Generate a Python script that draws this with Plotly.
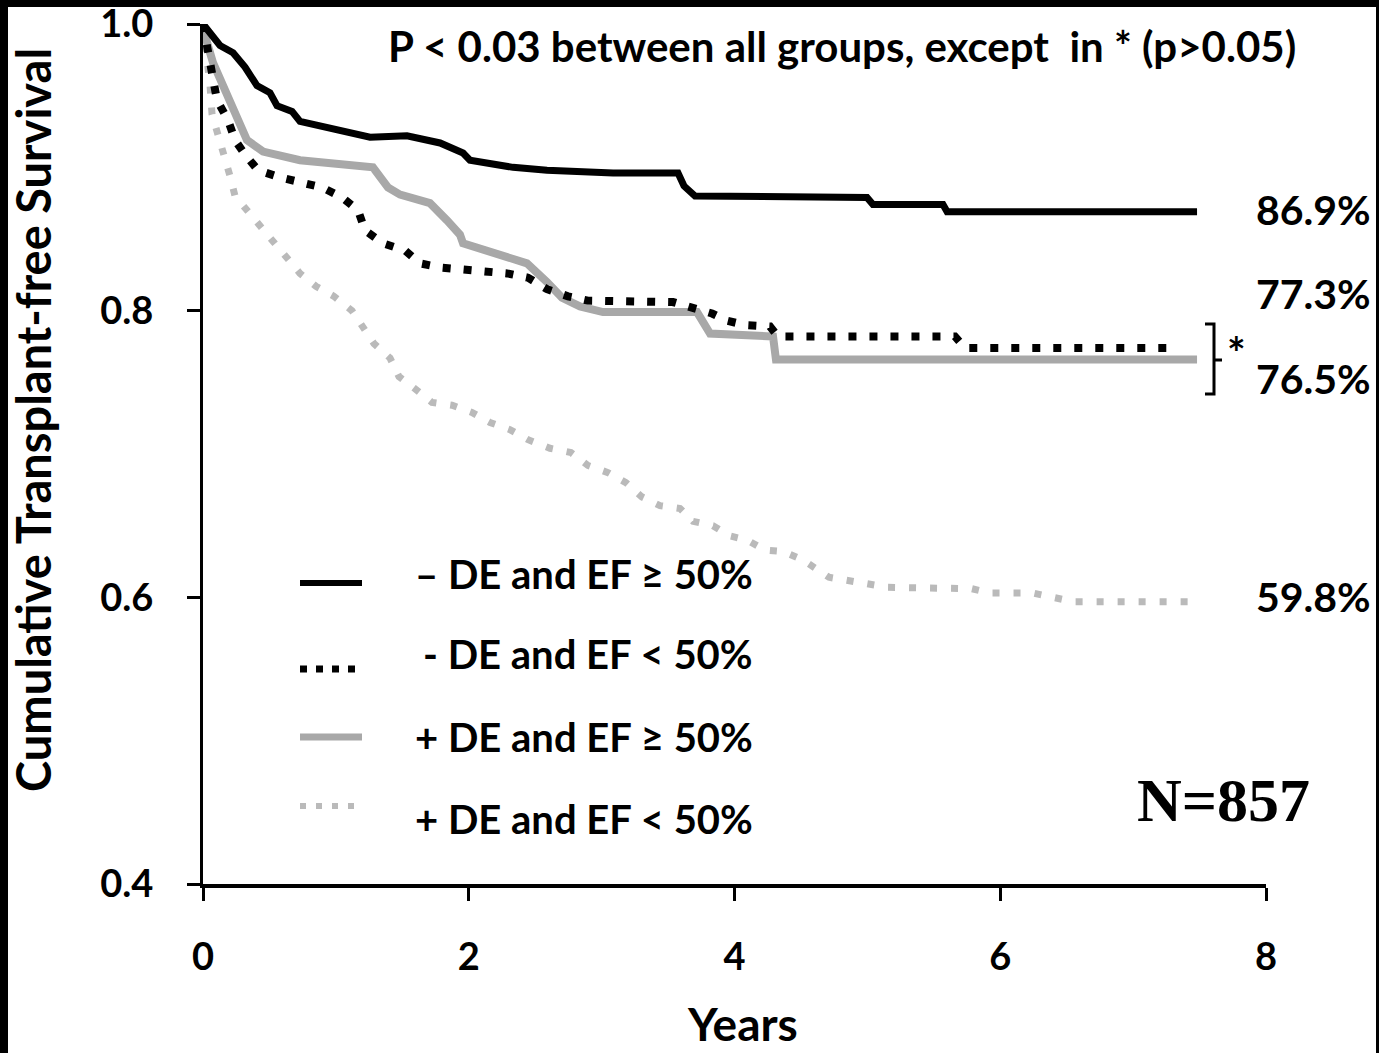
import plotly.graph_objects as go

# ---------------- data ----------------
years_neg_de_ef_hi = [0, 0.053, 0.128, 0.226, 0.316, 0.406, 0.504, 0.557, 0.670, 0.730, 0.956,
                      1.257, 1.535, 1.784, 1.957, 2.009, 2.333, 2.589, 3.086, 3.575, 3.620, 3.703,
                      4.997, 5.042, 5.569, 5.600, 7.481]
surv_neg_de_ef_hi = [1.0, 0.994, 0.985, 0.980, 0.970, 0.957, 0.952, 0.943, 0.939, 0.932, 0.927,
                     0.921, 0.922, 0.917, 0.910, 0.905, 0.900, 0.898, 0.896, 0.896, 0.887, 0.880,
                     0.879, 0.874, 0.874, 0.869, 0.869]

years_neg_de_ef_lo = [0, 0.053, 0.105, 0.188, 0.241, 0.316, 0.414, 0.579, 0.896, 1.046, 1.167,
                      1.219, 1.355, 1.520, 1.633, 1.799, 2.288, 2.446, 2.589, 2.747, 2.897, 3.537,
                      3.831, 3.944, 4.079, 4.267, 4.327, 5.659, 5.735, 7.278]
surv_neg_de_ef_lo = [1.0, 0.975, 0.947, 0.933, 0.919, 0.909, 0.898, 0.893, 0.886, 0.879, 0.870,
                     0.856, 0.847, 0.842, 0.833, 0.830, 0.826, 0.823, 0.815, 0.810, 0.807, 0.806,
                     0.798, 0.793, 0.790, 0.789, 0.782, 0.782, 0.774, 0.774]

years_pos_de_ef_hi = [0, 0.015, 0.075, 0.188, 0.278, 0.331, 0.452, 0.730, 1.279, 1.392, 1.483,
                      1.708, 1.836, 1.934, 1.957, 2.213, 2.438, 2.589, 2.702, 2.837, 3.010, 3.718,
                      3.816, 4.290, 4.312, 7.481]
surv_pos_de_ef_hi = [1.0, 0.992, 0.973, 0.950, 0.933, 0.919, 0.911, 0.905, 0.900, 0.886, 0.881,
                     0.875, 0.863, 0.853, 0.847, 0.840, 0.833, 0.820, 0.809, 0.803, 0.799, 0.799,
                     0.784, 0.782, 0.766, 0.766]

years_pos_de_ef_lo = [0, 0.030, 0.053, 0.068, 0.113, 0.166, 0.203, 0.241, 0.339, 0.436, 0.542,
                      0.640, 0.730, 0.850, 0.986, 1.121, 1.204, 1.287, 1.407, 1.475, 1.588, 1.723,
                      1.874, 2.024, 2.160, 2.310, 2.446, 2.611, 2.769, 2.897, 3.048, 3.183, 3.304,
                      3.439, 3.590, 3.688, 3.838, 3.959, 4.094, 4.230, 4.365, 4.516, 4.711, 4.847,
                      4.997, 5.155, 5.787, 5.923, 6.246, 6.397, 6.548, 7.428]
surv_pos_de_ef_lo = [1.0, 0.978, 0.957, 0.937, 0.923, 0.909, 0.894, 0.880, 0.869, 0.858, 0.848,
                     0.837, 0.826, 0.817, 0.810, 0.800, 0.789, 0.777, 0.767, 0.754, 0.746, 0.736,
                     0.734, 0.729, 0.722, 0.717, 0.710, 0.704, 0.701, 0.692, 0.687, 0.680, 0.670,
                     0.664, 0.662, 0.653, 0.650, 0.643, 0.640, 0.633, 0.632, 0.626, 0.614, 0.612,
                     0.610, 0.607, 0.606, 0.603, 0.603, 0.600, 0.597, 0.597]

group_labels = ["\u2013 DE and EF \u2265 50%", "- DE and EF < 50%",
                "+ DE and EF \u2265 50%", "+ DE and EF < 50%"]
final_labels = ["86.9%", "77.3%", "76.5%", "59.8%"]
x_ticks = [0, 2, 4, 6, 8]
y_ticks = [0.4, 0.6, 0.8, 1.0]

# ---------------- layout helpers (pixel -> paper) ----------------
W, H = 1379, 1053
L, R, T, B = 203, 113, 24, 169
PW, PH = W - L - R, H - T - B


def pxp(x):
    return (x - L) / PW


def pyp(y):
    return (H - B - y) / PH


FONT = "Lato"
BLACK = "#000000"
GRAY = "#a8a8a8"
LGRAY = "#bababa"

fig = go.Figure()

styles = [
    dict(color=BLACK, width=7, dash="solid"),
    dict(color=BLACK, width=8, dash="8px,13px"),
    dict(color=GRAY, width=8, dash="solid"),
    dict(color=LGRAY, width=7, dash="7px,14px"),
]
legend_dash = ["solid", "7px,9px", "solid", "6px,10px"]
series = [
    (years_neg_de_ef_hi, surv_neg_de_ef_hi),
    (years_neg_de_ef_lo, surv_neg_de_ef_lo),
    (years_pos_de_ef_hi, surv_pos_de_ef_hi),
    (years_pos_de_ef_lo, surv_pos_de_ef_lo),
]
order = [3, 2, 1, 0]
for i in order:
    xs, ys = series[i]
    fig.add_trace(go.Scatter(x=xs, y=ys, mode="lines", name=group_labels[i],
                             line=dict(color=styles[i]["color"], width=styles[i]["width"],
                                       dash=styles[i]["dash"]),
                             showlegend=False, hoverinfo="skip"))

annotations = []
shapes = []

# legend (drawn manually)
leg_text_y = [574, 654, 737, 819]
leg_line_y = [583, 669, 737, 806]
for i in range(4):
    shapes.append(dict(type="line", xref="paper", yref="paper",
                       x0=pxp(300), x1=pxp(362), y0=pyp(leg_line_y[i]), y1=pyp(leg_line_y[i]),
                       line=dict(color=styles[i]["color"], width=styles[i]["width"] - 1,
                                 dash=legend_dash[i])))
    annotations.append(dict(text=group_labels[i], xref="paper", yref="paper",
                            x=pxp(755), y=pyp(leg_text_y[i]), xanchor="right", yanchor="middle",
                            showarrow=False,
                            font=dict(family=FONT, size=40, color=BLACK, weight="bold")))

# end-of-curve percentages
lab_y = [209, 293, 379, 596]
for t, yy in zip(final_labels, lab_y):
    annotations.append(dict(text=t, xref="paper", yref="paper", x=pxp(1254), y=pyp(yy),
                            xanchor="left", yanchor="middle", showarrow=False,
                            font=dict(family=FONT, size=41, color=BLACK, weight="bold")))

# bracket and star
shapes.append(dict(type="path", xref="paper", yref="paper",
                   path=f"M {pxp(1205)},{pyp(324)} L {pxp(1214)},{pyp(324)} L {pxp(1214)},{pyp(394)} "
                        f"L {pxp(1205)},{pyp(394)} M {pxp(1214)},{pyp(360)} L {pxp(1222)},{pyp(360)}",
                   line=dict(color=BLACK, width=3)))
annotations.append(dict(text="*", xref="paper", yref="paper", x=pxp(1236), y=pyp(352),
                        xanchor="center", yanchor="middle", showarrow=False,
                        font=dict(family=FONT, size=44, color=BLACK, weight="bold")))

# title note
annotations.append(dict(text="P < 0.03 between all groups, except\u00a0 in * (p>0.05)",
                        xref="paper", yref="paper", x=pxp(842), y=pyp(46),
                        xanchor="center", yanchor="middle", showarrow=False,
                        font=dict(family=FONT, size=42, color=BLACK, weight="bold")))

# N=857
annotations.append(dict(text="N=857", xref="paper", yref="paper", x=pxp(1223), y=pyp(800),
                        xanchor="center", yanchor="middle", showarrow=False,
                        font=dict(family="Liberation Serif", size=62, color=BLACK, weight="bold")))

# axis titles
annotations.append(dict(text="Cumulative Transplant-free Survival", xref="paper", yref="paper",
                        x=pxp(33), y=pyp(420), xanchor="center", yanchor="middle",
                        textangle=-90, showarrow=False,
                        font=dict(family=FONT, size=47, color=BLACK, weight="bold")))
annotations.append(dict(text="Years", xref="paper", yref="paper",
                        x=pxp(742), y=pyp(1053), xanchor="center", yanchor="bottom",
                        showarrow=False,
                        font=dict(family=FONT, size=46, color=BLACK, weight="bold")))

# black frame of the picture
frame = [(0, 0, 8, H), (0, 0, W, 7), (1376, 0, W, H)]
for x0, y0, x1, y1 in frame:
    shapes.append(dict(type="rect", xref="paper", yref="paper",
                       x0=pxp(x0), x1=pxp(x1), y0=pyp(y0), y1=pyp(y1),
                       fillcolor=BLACK, line=dict(width=0), layer="below"))

fig.update_layout(
    width=W, height=H, autosize=False,
    margin=dict(l=L, r=R, t=T, b=B, pad=0, autoexpand=False),
    paper_bgcolor="white", plot_bgcolor="white",
    showlegend=False,
    annotations=annotations, shapes=shapes,
    xaxis=dict(range=[0, 8], tickvals=x_ticks, ticktext=[str(v) for v in x_ticks],
               automargin=False,
               showgrid=False, zeroline=False, showline=True, linecolor=BLACK, linewidth=4,
               ticks="outside", ticklen=13, tickwidth=3, tickcolor=BLACK,
               ticklabelstandoff=23, ticklabeloverflow="allow",
               tickfont=dict(family=FONT, size=38, color=BLACK, weight="bold")),
    yaxis=dict(range=[0.4, 1.0], tickvals=y_ticks, ticktext=[f"{v:.1f}" for v in y_ticks],
               automargin=False,
               showgrid=False, zeroline=False, showline=True, linecolor=BLACK, linewidth=3,
               ticks="outside", ticklen=13, tickwidth=3, tickcolor=BLACK,
               ticklabelstandoff=26, ticklabeloverflow="allow",
               tickfont=dict(family=FONT, size=38, color=BLACK, weight="bold")),
)

fig.write_html("out.html")
